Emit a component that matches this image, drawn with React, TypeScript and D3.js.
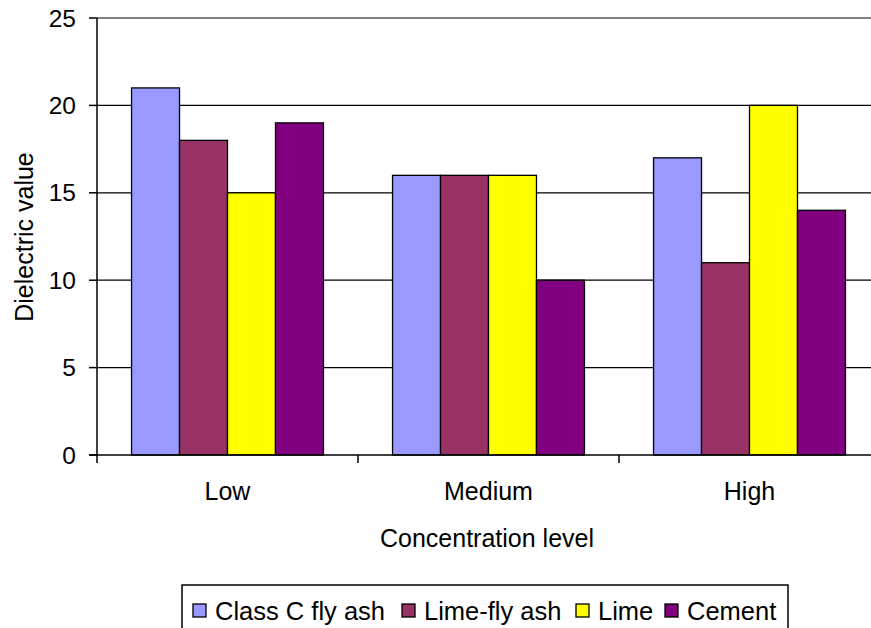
import React from "react";
import * as d3 from "d3";

const categories = ["Low", "Medium", "High"];
const seriesNames = ["Class C fly ash", "Lime-fly ash", "Lime", "Cement"];
const seriesColors = ["#9999FF", "#993366", "#FFFF00", "#800080"];
const classC = [21, 16, 17];
const limeFlyAsh = [18, 16, 11];
const lime = [15, 16, 20];
const cement = [19, 10, 14];
const yTicks = [0, 5, 10, 15, 20, 25];
const seriesValues = [classC, limeFlyAsh, lime, cement];

const W = 871;
const H = 628;
const left = 97;
const right = 880;
const top = 18;
const bottom = 455;
const FONT = "Arial, 'Liberation Sans', Helvetica, sans-serif";

export default function App() {
  const x = d3.scaleBand<string>().domain(categories).range([left, right]).paddingInner(0).paddingOuter(0);
  const xi = d3
    .scaleBand<string>()
    .domain(seriesNames)
    .range([0, x.bandwidth()])
    .paddingInner(0)
    .paddingOuter(0.72);
  const y = d3.scaleLinear().domain([0, 25]).range([bottom, top]);

  const tickXs = [...categories.map((c) => x(c) as number), right];
  const legendX = [193, 402, 576, 665];

  return (
    <svg
      width={W}
      height={H}
      style={{ position: "absolute", left: 0, top: 0, display: "block", background: "#fff" }}
      fontFamily={FONT}
    >
      {/* top border of plot area */}
      <line x1={left} x2={right} y1={y(25)} y2={y(25)} stroke="#808080" strokeWidth={2} />
      {/* gridlines */}
      {yTicks
        .filter((t) => t > 0 && t < 25)
        .map((t) => (
          <line key={t} x1={left} x2={right} y1={y(t)} y2={y(t)} stroke="#000" strokeWidth={1.3} />
        ))}
      {/* bars */}
      {categories.map((c, ci) =>
        seriesNames.map((s, si) => {
          const v = seriesValues[si][ci];
          const bx = (x(c) as number) + (xi(s) as number);
          return (
            <rect
              key={c + s}
              x={bx}
              y={y(v)}
              width={xi.bandwidth()}
              height={y(0) - y(v)}
              fill={seriesColors[si]}
              stroke="#000"
              strokeWidth={1.3}
            />
          );
        })
      )}
      {/* y axis */}
      <line x1={left} x2={left} y1={y(25)} y2={y(0)} stroke="#000" strokeWidth={1.5} />
      {yTicks.map((t) => (
        <g key={t}>
          <line x1={left - 8} x2={left} y1={y(t)} y2={y(t)} stroke="#000" strokeWidth={1.5} />
          <text x={76} y={y(t) + 8.5} textAnchor="end" fontSize={24.5} fill="#000">
            {t}
          </text>
        </g>
      ))}
      {/* x axis */}
      <line x1={left - 8} x2={right} y1={y(0)} y2={y(0)} stroke="#000" strokeWidth={1.5} />
      {tickXs.map((tx, i) => (
        <line key={i} x1={tx} x2={tx} y1={y(0)} y2={y(0) + 8} stroke="#000" strokeWidth={1.5} />
      ))}
      {categories.map((c) => (
        <text
          key={c}
          x={(x(c) as number) + x.bandwidth() / 2}
          y={500}
          textAnchor="middle"
          fontSize={25}
          fill="#000"
        >
          {c}
        </text>
      ))}
      <text x={487} y={547} textAnchor="middle" fontSize={25} fill="#000">
        Concentration level
      </text>
      <text
        transform={`translate(33, 237) rotate(-90)`}
        textAnchor="middle"
        fontSize={25}
        fill="#000"
      >
        Dielectric value
      </text>
      {/* legend */}
      <rect x={182} y={585} width={606} height={60} fill="#fff" stroke="#000" strokeWidth={1.5} />
      {seriesNames.map((s, i) => (
        <g key={s}>
          <rect x={legendX[i]} y={604} width={13} height={13} fill={seriesColors[i]} stroke="#000" strokeWidth={1.3} />
          <text x={legendX[i] + 22} y={620} fontSize={25.5} fill="#000">
            {s}
          </text>
        </g>
      ))}
    </svg>
  );
}
